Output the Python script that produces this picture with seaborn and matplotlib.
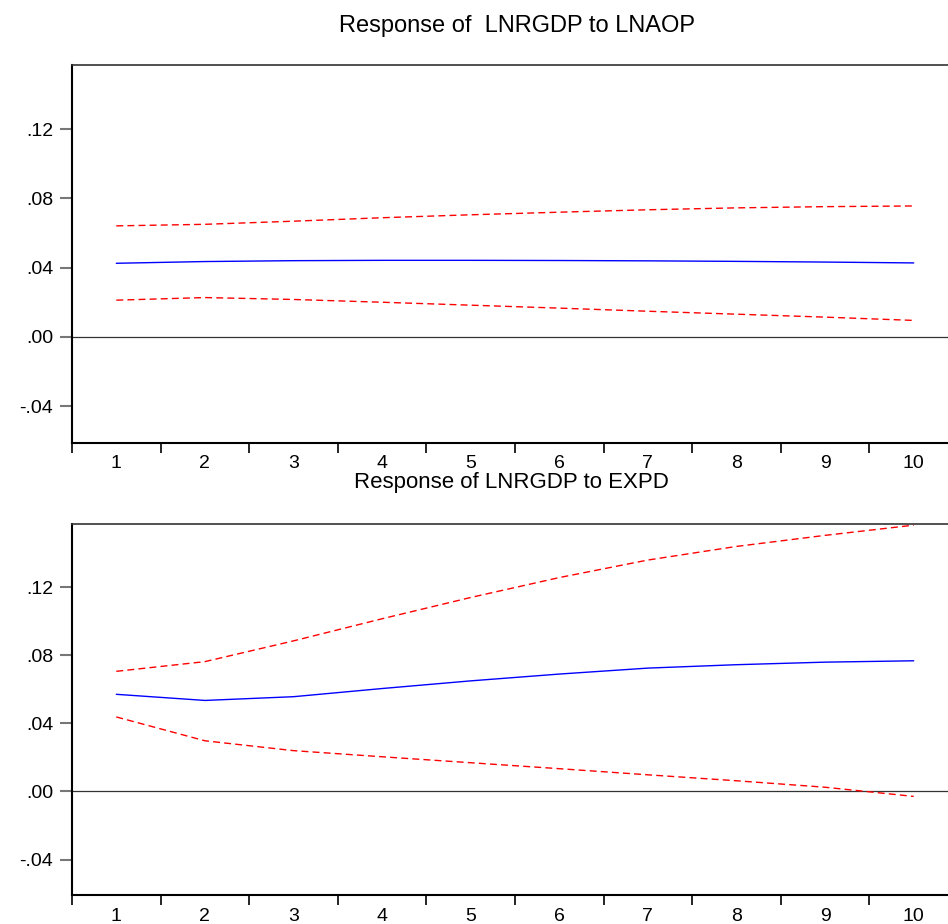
import matplotlib
matplotlib.use("Agg")
import matplotlib.pyplot as plt
import seaborn as sns
import pandas as pd
from matplotlib.ticker import FixedLocator

# impulse response horizons
periods = list(range(1, 11))

# Response of LNRGDP to LNAOP
aop_resp = [0.0425, 0.0435, 0.0440, 0.0442, 0.0442, 0.0441, 0.0439, 0.0436, 0.0432, 0.0427]
aop_upper = [0.0641, 0.0650, 0.0668, 0.0688, 0.0705, 0.0720, 0.0734, 0.0745, 0.0752, 0.0756]
aop_lower = [0.0212, 0.0227, 0.0216, 0.0200, 0.0183, 0.0166, 0.0148, 0.0131, 0.0114, 0.0095]

# Response of LNRGDP to EXPD
expd_resp = [0.0571, 0.0535, 0.0557, 0.0605, 0.0650, 0.0690, 0.0725, 0.0745, 0.0760, 0.0768]
expd_upper = [0.0706, 0.0763, 0.0885, 0.1015, 0.1140, 0.1257, 0.1360, 0.1440, 0.1505, 0.1565]
expd_lower = [0.0438, 0.0298, 0.0240, 0.0204, 0.0169, 0.0134, 0.0098, 0.0063, 0.0025, -0.0029]

titles = ["Response of  LNRGDP to LNAOP", "Response of LNRGDP to EXPD"]
ytick_vals = [-0.04, 0.00, 0.04, 0.08, 0.12]
ytick_labels = ["-.04", ".00", ".04", ".08", ".12"]

sns.set_theme(style="white")
plt.rcParams["font.family"] = ["Liberation Sans", "DejaVu Sans"]

W, H = 948, 924
fig = plt.figure(figsize=(W / 100, H / 100), dpi=100)


def panel(rect_px, resp, upper, lower, title, title_base, title_x, title_size):
    left, top, right, bottom = rect_px
    ax = fig.add_axes([left / W, 1 - bottom / H, (right - left) / W, (bottom - top) / H])
    df = pd.DataFrame({"period": periods, "resp": resp, "upper": upper, "lower": lower})
    ax.axhline(0, color="#333333", lw=0.9, zorder=1)
    sns.lineplot(data=df, x="period", y="upper", color="#FF0000", lw=1.0,
                 ax=ax, linestyle=(0, (5, 3)))
    sns.lineplot(data=df, x="period", y="lower", color="#FF0000", lw=1.0,
                 ax=ax, linestyle=(0, (5, 3)))
    sns.lineplot(data=df, x="period", y="resp", color="#0000FF", lw=1.0, ax=ax)
    ax.set_xlim(0.5, 10.5)
    ax.set_ylim(-0.061, 0.157)
    ax.set_xlabel("")
    ax.set_ylabel("")

    # tick marks sit between periods, labels on the periods
    ax.xaxis.set_major_locator(FixedLocator([p + 0.5 for p in range(0, 10)]))
    ax.xaxis.set_minor_locator(FixedLocator(periods))
    ax.set_xticklabels([])
    ax.set_xticklabels([str(p) for p in periods], minor=True)
    ax.tick_params(axis="x", which="major", direction="out", length=7, width=1.2,
                   color="black", bottom=True)
    ax.tick_params(axis="x", which="minor", length=0, pad=9, labelsize=14,
                   labelcolor="black", bottom=True)

    ax.set_yticks(ytick_vals)
    ax.set_yticklabels(ytick_labels)
    ax.tick_params(axis="y", direction="out", length=8.5, width=1.5, color="#777777",
                   left=True, pad=5, labelsize=14, labelcolor="black")

    for side in ["left", "bottom"]:
        ax.spines[side].set_color("black")
        ax.spines[side].set_linewidth(1.5)
    ax.spines["top"].set_color("#333333")
    ax.spines["top"].set_linewidth(1.2)
    ax.spines["right"].set_visible(False)

    fig.text(title_x / W, 1 - title_base / H, title, ha="center", va="baseline",
             fontsize=title_size, color="black")
    return ax


panel((72, 65, 958, 442.5), aop_resp, aop_upper, aop_lower, titles[0], 32, 517, 17)
panel((72, 524.3, 958, 895.3), expd_resp, expd_upper, expd_lower, titles[1], 488, 511, 16)

fig.savefig("out.png", dpi=100)
plt.close(fig)
